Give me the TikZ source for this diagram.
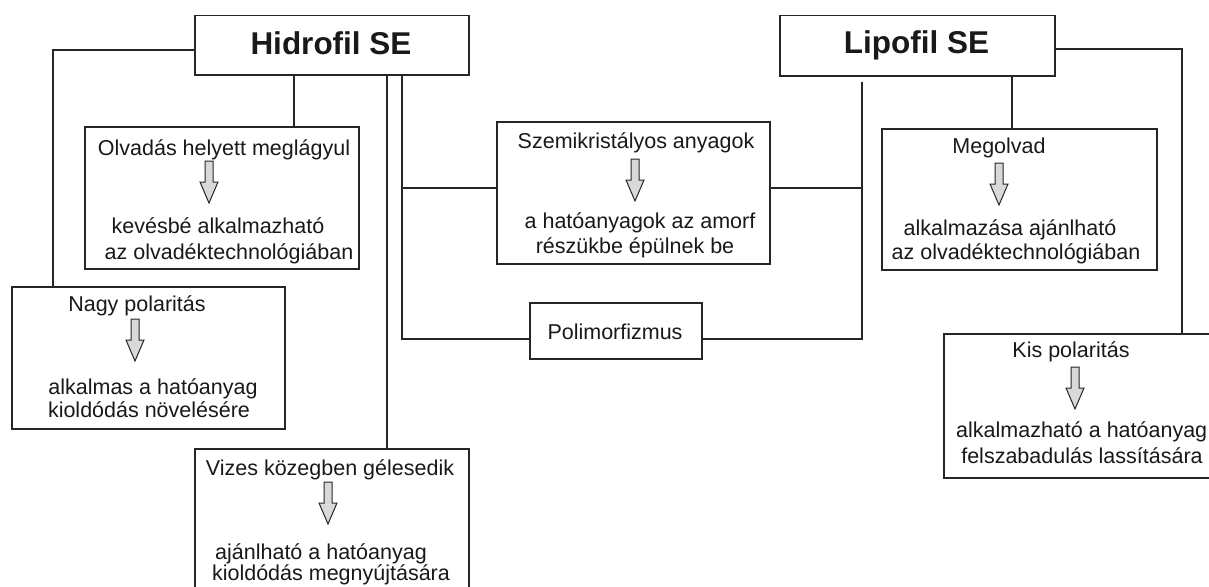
\documentclass[tikz,border=0pt]{standalone}
\usepackage{fontspec}
\setmainfont{Liberation Sans}
\newcommand{\blockarr}[2]{%
  \draw[arrowshape] (#1-4,#2) -- (#1+4,#2) -- (#1+4,#2+21) -- (#1+9,#2+21)
    -- (#1,#2+42) -- (#1-9,#2+21) -- (#1-4,#2+21) -- cycle;}
\tikzset{
  box/.style={draw=black!85, line width=1.5pt, inner sep=0pt, anchor=north west, fill=white},
  conn/.style={draw=black!85, line width=1.5pt},
  txt/.style={font=\fontsize{21.5}{25}\selectfont, inner sep=0pt, anchor=base, text=black!90},
  title/.style={font=\fontsize{31.5}{36}\selectfont\bfseries, inner sep=0pt, anchor=base, text=black!90},
  arrowshape/.style={draw=black!85, line width=1pt, fill=black!15, line join=miter},
}
\begin{document}
\begin{tikzpicture}[x=1pt, y=-1pt]
\fill[white] (0,0) rectangle (1209,586);
\useasboundingbox (0,0) rectangle (1209,586);
\clip (0,0) rectangle (1209,586);

% junction coordinates
\coordinate (hL) at (53,50);
\coordinate (hM) at (294,0);
\coordinate (hV) at (387,0);
\coordinate (jA) at (402,188);
\coordinate (jB) at (402,339);
\coordinate (kT) at (862,82);
\coordinate (kA) at (862,188);
\coordinate (kB) at (862,339);
\coordinate (lM) at (1012,0);
\coordinate (lR) at (1182,49);

% boxes
\node[box, minimum width=274pt, minimum height=59pt] (hid) at (194,15) {};
\node[box, minimum width=275pt, minimum height=60pt] (lip) at (779,15) {};
\node[box, minimum width=274pt, minimum height=142pt] (olv) at (84,126) {};
\node[box, minimum width=273pt, minimum height=142pt] (szemi) at (496,121) {};
\node[box, minimum width=172pt, minimum height=56pt] (poli) at (529,302) {};
\node[box, minimum width=275pt, minimum height=141pt] (meg) at (881,128) {};
\node[box, minimum width=273pt, minimum height=142pt] (nagy) at (11,286) {};
\node[box, minimum width=274pt, minimum height=200pt] (viz) at (194,448) {};
\node[box, minimum width=330pt, minimum height=144pt] (kis) at (943,333) {};

% connectors
\draw[conn] (hid.west |- hL) -| (nagy.north -| hL);
\draw[conn] (hid.south -| hM) -- (olv.north -| hM);
\draw[conn] (hid.south -| hV) -- (viz.north -| hV);
\draw[conn] (hid.south -| jB) -- (jB) -- (poli.west |- jB);
\draw[conn] (jA) -- (szemi.west |- jA);
\draw[conn] (kT) -- (kB) -- (poli.east |- kB);
\draw[conn] (kA) -- (szemi.east |- kA);
\draw[conn] (lip.south -| lM) -- (meg.north -| lM);
\draw[conn] (lip.east |- lR) -| (kis.north -| lR);

% titles
\node[title] (thid) at (331,55) {Hidrofil SE};
\node[title] (tlip) at (916.5,54) {Lipofil SE};

% Olvadás box
\node[txt] (o1) at (224,155) {Olvadás helyett meglágyul};
\blockarr{209}{161}
\node[txt] (o2) at (218,233) {kevésbé alkalmazható};
\node[txt] (o3) at (229,259) {az olvadéktechnológiában};

% Szemi box
\node[txt] (s1) at (636,148) {Szemikristályos anyagok};
\blockarr{635}{159}
\node[txt] (s2) at (640,228) {a hatóanyagok az amorf};
\node[txt] (s3) at (635,253) {részükbe épülnek be};

% Polimorfizmus
\node[txt] (p1) at (615,339) {Polimorfizmus};

% Megolvad box
\node[txt] (m1) at (999,153) {Megolvad};
\blockarr{999}{163}
\node[txt] (m2) at (1010,235) {alkalmazása ajánlható};
\node[txt] (m3) at (1016,259) {az olvadéktechnológiában};

% Nagy box
\node[txt] (n1) at (137,311) {Nagy polaritás};
\blockarr{135}{319}
\node[txt] (n2) at (153,394) {alkalmas a hatóanyag};
\node[txt] (n3) at (149,417) {kioldódás növelésére};

% Vizes box
\node[txt] (v1) at (330,475) {Vizes közegben gélesedik};
\blockarr{328}{482}
\node[txt] (v2) at (321,559) {ajánlható a hatóanyag};
\node[txt] (v3) at (331,580) {kioldódás megnyújtására};

% Kis box
\node[txt] (k1) at (1071,357) {Kis polaritás};
\blockarr{1075}{367}
\node[txt, anchor=base west] (k2) at (956,437) {alkalmazható a hatóanyag};
\node[txt] (k3) at (1082,463) {felszabadulás lassítására};
\end{tikzpicture}
\end{document}
